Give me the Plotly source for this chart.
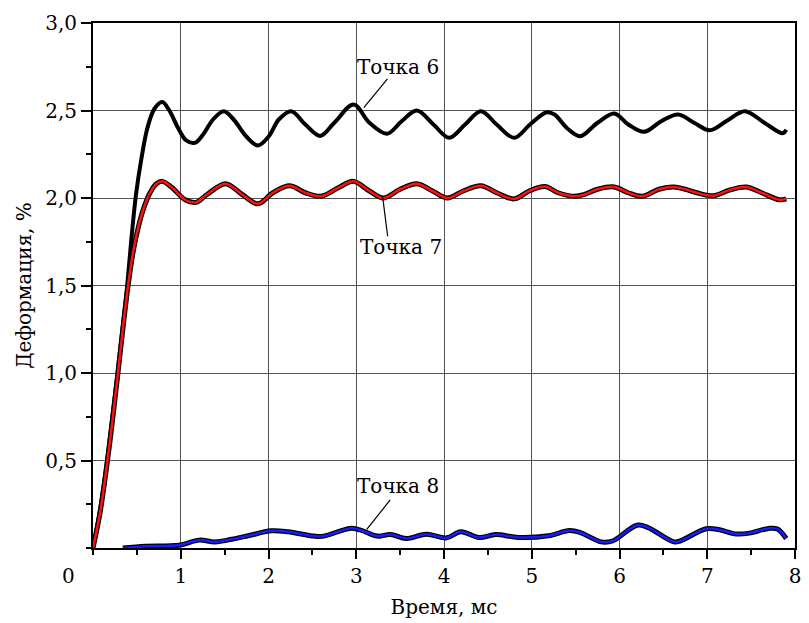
import plotly.graph_objects as go

# Точка 6 (black)
t6 = [0, 0.08, 0.16, 0.22, 0.28, 0.34, 0.39, 0.44, 0.49, 0.55, 0.62, 0.70, 0.79, 0.87, 0.97, 1.06,
      1.16, 1.25, 1.37, 1.49, 1.6, 1.75, 1.88, 2.0, 2.12, 2.26, 2.42, 2.59, 2.75, 2.97, 3.15, 3.35,
      3.52, 3.69, 3.88, 4.06, 4.24, 4.42, 4.6, 4.8, 4.98, 5.17, 5.26, 5.4, 5.55, 5.75, 5.94, 6.1,
      6.28, 6.48, 6.67, 6.85, 7.03, 7.22, 7.43, 7.65, 7.86, 7.9]
v6 = [0, 0.22, 0.5, 0.75, 1.0, 1.27, 1.5, 1.78, 2.02, 2.22, 2.40, 2.51, 2.548, 2.5, 2.4, 2.33,
      2.315, 2.36, 2.45, 2.496, 2.45, 2.35, 2.30, 2.35, 2.45, 2.496, 2.42, 2.355, 2.43, 2.534, 2.43, 2.367,
      2.44, 2.50, 2.42, 2.344, 2.42, 2.496, 2.42, 2.344, 2.42, 2.49, 2.477, 2.40, 2.353, 2.43, 2.483, 2.42,
      2.378, 2.44, 2.477, 2.43, 2.387, 2.44, 2.496, 2.43, 2.37, 2.39]

# Точка 7 (red)
t7 = [0, 0.08, 0.16, 0.22, 0.28, 0.34, 0.40, 0.46, 0.52, 0.57, 0.65, 0.72, 0.79, 0.9, 1.05, 1.17,
      1.3, 1.51, 1.7, 1.88, 2.05, 2.24, 2.42, 2.6, 2.8, 2.97, 3.15, 3.31, 3.5, 3.69, 3.87, 4.04,
      4.22, 4.42, 4.6, 4.8, 4.97, 5.15, 5.3, 5.49, 5.6, 5.75, 5.94, 6.1, 6.26, 6.45, 6.62, 6.75,
      6.88, 7.07, 7.25, 7.44, 7.62, 7.82, 7.9]
v7 = [0, 0.2, 0.48, 0.72, 0.98, 1.25, 1.5, 1.70, 1.84, 1.93, 2.03, 2.08, 2.095, 2.06, 1.99, 1.975,
      2.02, 2.082, 2.02, 1.967, 2.03, 2.07, 2.03, 2.01, 2.06, 2.095, 2.04, 2.0, 2.05, 2.082, 2.04, 2.0,
      2.04, 2.07, 2.03, 1.995, 2.04, 2.066, 2.03, 2.01, 2.02, 2.05, 2.063, 2.03, 2.01, 2.05, 2.063, 2.05,
      2.03, 2.013, 2.045, 2.063, 2.03, 1.99, 1.995]

# Точка 8 (blue)
t8 = [0.34, 0.6, 0.98, 1.21, 1.39, 1.58, 1.77, 2.03, 2.22, 2.52, 2.63, 2.93, 3.05, 3.24, 3.39, 3.57,
      3.8, 4.03, 4.19, 4.40, 4.59, 4.85, 5.19, 5.43, 5.56, 5.79, 5.92, 6.20, 6.32, 6.62, 6.69, 6.99,
      7.14, 7.33, 7.48, 7.70, 7.80, 7.90]
v8 = [0.0, 0.01, 0.016, 0.045, 0.035, 0.05, 0.07, 0.098, 0.093, 0.068, 0.068, 0.112, 0.102, 0.068, 0.077, 0.054,
      0.079, 0.058, 0.093, 0.06, 0.077, 0.06, 0.07, 0.1, 0.087, 0.035, 0.04, 0.13, 0.118, 0.035, 0.04, 0.11,
      0.104, 0.08, 0.085, 0.112, 0.108, 0.054]

y_ticks = [0.5, 1.0, 1.5, 2.0, 2.5, 3.0]
y_labels = ["0,5", "1,0", "1,5", "2,0", "2,5", "3,0"]
x_ticks = [1, 2, 3, 4, 5, 6, 7, 8]
x_labels = ["1", "2", "3", "4", "5", "6", "7", "8"]

FONT = "DejaVu Serif"

fig = go.Figure()
sm = 1.0
fig.add_trace(go.Scatter(x=t6, y=v6, mode="lines", line=dict(color="black", width=4, shape="spline", smoothing=sm), showlegend=False))
fig.add_trace(go.Scatter(x=t7, y=v7, mode="lines", line=dict(color="black", width=5, shape="spline", smoothing=sm), showlegend=False))
fig.add_trace(go.Scatter(x=t7, y=v7, mode="lines", line=dict(color="#ff1010", width=2.5, shape="spline", smoothing=sm), showlegend=False))
fig.add_trace(go.Scatter(x=t8, y=v8, mode="lines", line=dict(color="black", width=5, shape="spline", smoothing=sm), showlegend=False))
fig.add_trace(go.Scatter(x=t8, y=v8, mode="lines", line=dict(color="#1a1aff", width=2.5, shape="spline", smoothing=sm), showlegend=False))

ann_font = dict(family=FONT, size=20, color="black")
labels = [
    ("Точка 6", 3.48, 2.75, 3.086, 2.517, 3.37, 2.689),
    ("Точка 7", 3.51, 1.72, 3.30, 2.011, 3.36, 1.773),
    ("Точка 8", 3.48, 0.352, 3.12, 0.106, 3.40, 0.283),
]
for txt, tx, ty, x0, y0, x1, y1 in labels:
    fig.add_annotation(x=tx, y=ty, text=txt, showarrow=False, font=ann_font, xref="x", yref="y")
    fig.add_annotation(x=x0, y=y0, ax=x1, ay=y1, axref="x", ayref="y", xref="x", yref="y",
                       text="", showarrow=True, arrowhead=0, arrowwidth=1.2, arrowcolor="black", standoff=0)

fig.add_annotation(x=0, y=0, xref="x", yref="y", text="0", showarrow=False,
                   font=dict(family=FONT, size=20, color="black"), xshift=-25, yshift=-28)

fig.update_layout(
    width=809, height=623,
    margin=dict(l=93, r=8, t=23, b=73),
    paper_bgcolor="white", plot_bgcolor="white",
    font=dict(family=FONT, color="black"),
)
fig.update_xaxes(
    range=[0, 8], tickvals=x_ticks, ticktext=x_labels,
    tickfont=dict(family=FONT, size=20, color="black"),
    showgrid=True, gridcolor="#555555", gridwidth=1,
    showline=True, linecolor="black", linewidth=2, mirror=True,
    ticks="outside", ticklen=9, tickwidth=1.5, tickcolor="black",
    minor=dict(dtick=0.5, tick0=0, ticks="outside", ticklen=5, tickwidth=1.5, tickcolor="black", showgrid=False),
    zeroline=False,
    title=dict(text="Время, мс", font=dict(family=FONT, size=20, color="black"), standoff=13),
)
fig.update_yaxes(
    range=[0, 3], tickvals=y_ticks, ticktext=y_labels,
    tickfont=dict(family=FONT, size=20, color="black"),
    showgrid=True, gridcolor="#555555", gridwidth=1,
    showline=True, linecolor="black", linewidth=2, mirror=True,
    ticks="outside", ticklen=10, tickwidth=1.5, tickcolor="black",
    minor=dict(dtick=0.25, tick0=0, ticks="outside", ticklen=5, tickwidth=1.5, tickcolor="black", showgrid=False),
    zeroline=False,
    title=dict(text="Деформация, %", font=dict(family=FONT, size=20, color="black"), standoff=8),
)

fig.write_html("out.html")
